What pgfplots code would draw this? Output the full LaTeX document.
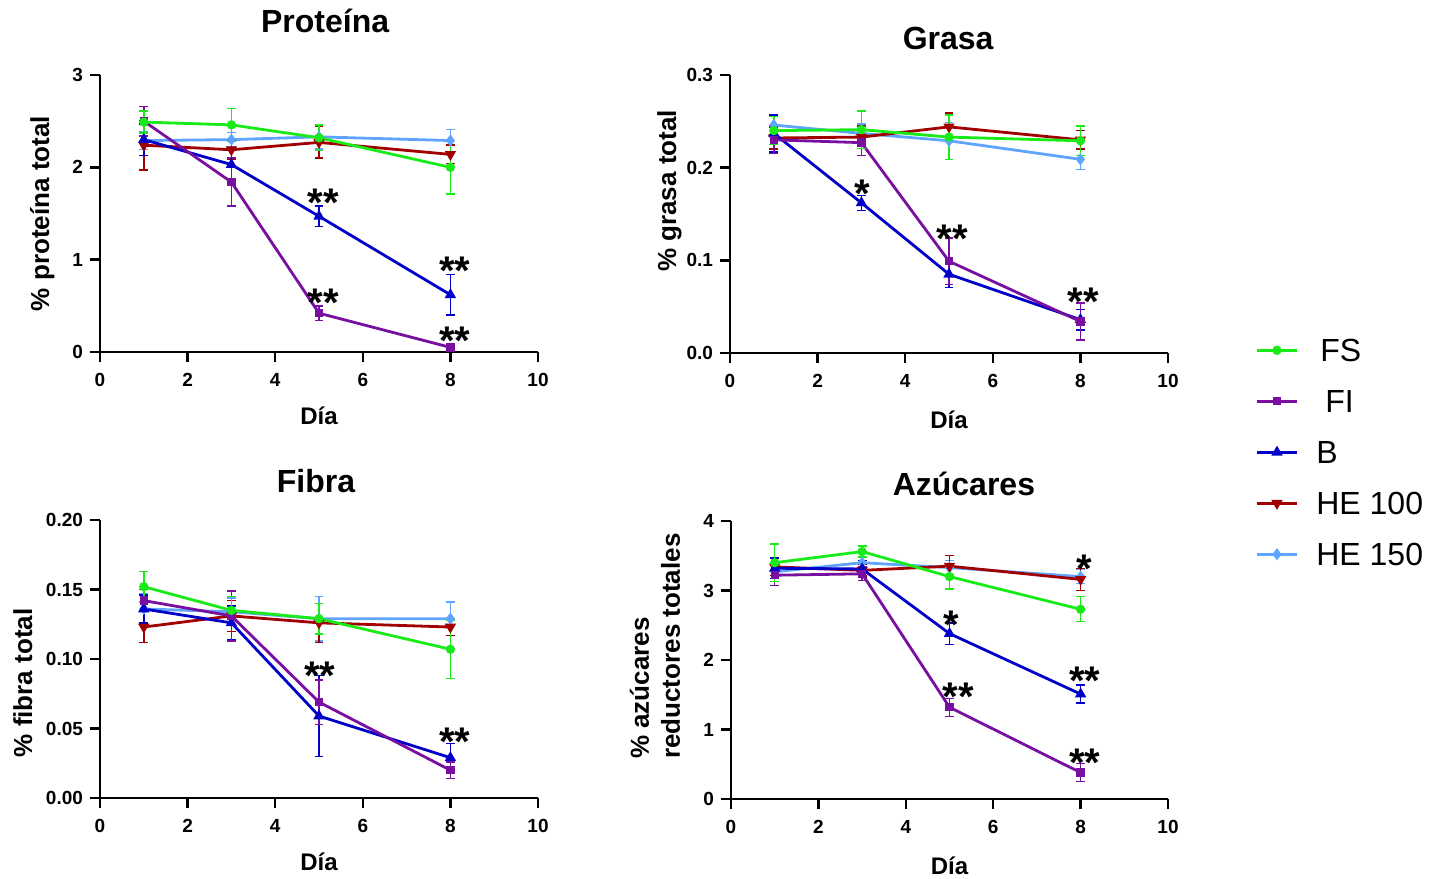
\documentclass[border=0pt]{standalone}
\usepackage{fontspec}
\setmainfont{Liberation Sans}
\usepackage{pgfplots}
\pgfplotsset{compat=1.18}

\definecolor{cFS}{RGB}{25,235,25}
\definecolor{cFI}{RGB}{120,15,160}
\definecolor{cB}{RGB}{0,0,200}
\definecolor{cHEa}{RGB}{160,0,0}
\definecolor{cHEb}{RGB}{95,165,255}

\newcommand{\stars}[1]{{\bfseries\fontsize{20}{20}\selectfont #1}}

\pgfplotsset{
  panel/.style={
    scale only axis, width=219pt, height=139pt,
    xmin=0, xmax=10, ymin=0,
    xtick={0,2,...,10},
    axis x line*=bottom, axis y line*=left,
    axis line style={line width=1.2pt},
    tick align=outside, major tick length=5pt,
    tick style={line width=1.2pt, black},
    /pgf/number format/assume math mode=true,
    ticklabel style={font=\bfseries\fontsize{9.5}{10}\selectfont},
    xticklabel style={yshift=-2pt},
    label style={font=\bfseries\fontsize{12}{14}\selectfont},
    ylabel style={font=\bfseries\fontsize{13}{15.5}\selectfont},
    every axis title shift=0pt,
    title style={font=\bfseries\fontsize{16}{18}\selectfont, anchor=base},
    xlabel={Día},
    clip=false,
  },
  ebar/.style={line width=1.4pt,
      error bars/y dir=both, error bars/y explicit,
      error bars/error bar style={line width=0.7pt},
      error bars/error mark options={rotate=90, mark size=2.2pt, line width=0.7pt}},
  sFS/.style={ebar, color=cFS, mark=*, mark size=1.6pt},
  sFI/.style={ebar, color=cFI, mark=square*, mark size=1.4pt},
  sB/.style={ebar, color=cB, mark=triangle*, mark size=1.9pt},
  sHEa/.style={ebar, color=cHEa, mark=triangle*, mark size=1.9pt, mark options={rotate=180}},
  sHEb/.style={ebar, color=cHEb, mark=diamond*, mark size=1.9pt},
}

\begin{document}
\begin{tikzpicture}
\useasboundingbox (0,0) rectangle (714.5pt,439pt);

% ---------------- Proteína ----------------
\begin{axis}[panel, at={(50pt,263pt)}, anchor=south west, height=138.5pt,
  ymax=3, ytick={0,1,2,3},
  title={Proteína}, title style={at={(axis description cs:0.514,1.155)}},
  ylabel={\% proteína total},
  ylabel style={at={(axis description cs:-0.116,0.5)}, anchor=base},
  xlabel style={at={(axis description cs:0.5,-0.26)}, anchor=base}]
\addplot[sHEb] coordinates {(1,2.29) +- (0,0.10) (3,2.30) +- (0,0.08) (5,2.33) +- (0,0.13) (8,2.29) +- (0,0.12)};
\addplot[sHEa] coordinates {(1,2.24) +- (0,0.27) (3,2.19) +- (0,0.10) (5,2.27) +- (0,0.17) (8,2.14) +- (0,0.10)};
\addplot[sB] coordinates {(1,2.30) +- (0,0.17) (3,2.03) +- (0,0.17) (5,1.47) +- (0,0.11) (8,0.62) +- (0,0.22)};
\addplot[sFI] coordinates {(1,2.50) +- (0,0.16) (3,1.84) +- (0,0.26) (5,0.42) +- (0,0.08) (8,0.05) +- (0,0.02)};
\addplot[sFS] coordinates {(1,2.49) +- (0,0.12) (3,2.46) +- (0,0.18) (5,2.32) +- (0,0.14) (8,2.00) +- (0,0.29)};
\node[anchor=north, inner sep=0pt] at (axis cs:5.1,1.77) {\stars{**}};
\node[anchor=north, inner sep=0pt] at (axis cs:8.1,1.03) {\stars{**}};
\node[anchor=north, inner sep=0pt] at (axis cs:5.1,0.69) {\stars{**}};
\node[anchor=north, inner sep=0pt] at (axis cs:8.1,0.27) {\stars{**}};
\end{axis}

% ---------------- Grasa ----------------
\begin{axis}[panel, at={(365pt,262.5pt)}, anchor=south west,
  ymax=0.3, ytick={0,0.1,0.2,0.3},
  yticklabel style={/pgf/number format/.cd, fixed, fixed zerofill, precision=1},
  title={Grasa}, title style={at={(axis description cs:0.498,1.09)}},
  ylabel={\% grasa total},
  ylabel style={at={(axis description cs:-0.123,0.583)}, anchor=base},
  xlabel style={at={(axis description cs:0.5,-0.273)}, anchor=base},
  legend style={draw=none, fill=none, inner sep=0pt,
    at={(rel axis cs:1.199,0.067)}, anchor=north west,
    font=\fontsize{16}{16}\selectfont, row sep=10pt, column sep=7pt,
    nodes={inner sep=2pt, text height=11.5pt, text depth=0pt}},
  legend cell align=left, reverse legend,
  legend image code/.code={\draw[mark repeat=2,mark phase=2,#1] plot coordinates {(0pt,0pt) (10pt,0pt) (20pt,0pt)};}]
\addplot[sHEb] coordinates {(1,0.246) +- (0,0.010) (3,0.237) +- (0,0.010) (5,0.229) +- (0,0.020) (8,0.209) +- (0,0.011)};
\addlegendentry{HE 150}
\addplot[sHEa] coordinates {(1,0.232) +- (0,0.012) (3,0.233) +- (0,0.012) (5,0.244) +- (0,0.015) (8,0.230) +- (0,0.010)};
\addlegendentry{HE 100}
\addplot[sB] coordinates {(1,0.237) +- (0,0.020) (3,0.162) +- (0,0.008) (5,0.085) +- (0,0.014) (8,0.036) +- (0,0.011)};
\addlegendentry{B}
\addplot[sFI] coordinates {(1,0.230) +- (0,0.015) (3,0.227) +- (0,0.014) (5,0.099) +- (0,0.025) (8,0.034) +- (0,0.020)};
\addlegendentry{\hspace{4.5pt}FI}
\addplot[sFS] coordinates {(1,0.240) +- (0,0.015) (3,0.241) +- (0,0.020) (5,0.233) +- (0,0.024) (8,0.229) +- (0,0.016)};
\addlegendentry{\hspace{2pt}FS}
\node[anchor=north, inner sep=0pt] at (axis cs:3.01,0.187) {\stars{*}};
\node[anchor=north, inner sep=0pt] at (axis cs:5.07,0.139) {\stars{**}};
\node[anchor=north, inner sep=0pt] at (axis cs:8.06,0.0705) {\stars{**}};
\end{axis}

% ---------------- Fibra ----------------
\begin{axis}[panel, at={(50pt,40pt)}, anchor=south west,
  ymax=0.2, ytick={0,0.05,0.1,0.15,0.2},
  yticklabel style={/pgf/number format/.cd, fixed, fixed zerofill, precision=2},
  title={Fibra}, title style={at={(axis description cs:0.493,1.10)}},
  ylabel={\% fibra total},
  ylabel style={at={(axis description cs:-0.155,0.414)}, anchor=base},
  xlabel style={at={(axis description cs:0.5,-0.259)}, anchor=base}]
\addplot[sHEb] coordinates {(1,0.136) +- (0,0.011) (3,0.134) +- (0,0.010) (5,0.129) +- (0,0.016) (8,0.129) +- (0,0.012)};
\addplot[sHEa] coordinates {(1,0.123) +- (0,0.011) (3,0.131) +- (0,0.011) (5,0.126) +- (0,0.014) (8,0.123) +- (0,0.006)};
\addplot[sB] coordinates {(1,0.136) +- (0,0.010) (3,0.126) +- (0,0.012) (5,0.059) +- (0,0.029) (8,0.029) +- (0,0.010)};
\addplot[sFI] coordinates {(1,0.142) +- (0,0.008) (3,0.131) +- (0,0.018) (5,0.069) +- (0,0.016) (8,0.020) +- (0,0.006)};
\addplot[sFS] coordinates {(1,0.152) +- (0,0.011) (3,0.135) +- (0,0.010) (5,0.129) +- (0,0.011) (8,0.107) +- (0,0.021)};
\node[anchor=north, inner sep=0pt] at (axis cs:5.02,0.0984) {\stars{**}};
\node[anchor=north, inner sep=0pt] at (axis cs:8.1,0.0507) {\stars{**}};
\end{axis}

% ---------------- Azúcares ----------------
\begin{axis}[panel, at={(365.5pt,39.5pt)}, anchor=south west, width=218.5pt,
  ymax=4, ytick={0,1,2,3,4},
  title={Azúcares}, title style={at={(axis description cs:0.533,1.09)}},
  ylabel={\% azúcares\\reductores totales},
  ylabel style={at={(axis description cs:-0.174,0.55)}, anchor=center, align=left},
  xlabel style={at={(axis description cs:0.5,-0.27)}, anchor=base}]
\addplot[sHEb] coordinates {(1,3.27) +- (0,0.10) (3,3.40) +- (0,0.08) (5,3.33) +- (0,0.10) (8,3.20) +- (0,0.10)};
\addplot[sHEa] coordinates {(1,3.34) +- (0,0.12) (3,3.29) +- (0,0.08) (5,3.35) +- (0,0.15) (8,3.16) +- (0,0.16)};
\addplot[sB] coordinates {(1,3.32) +- (0,0.15) (3,3.31) +- (0,0.12) (5,2.38) +- (0,0.155) (8,1.51) +- (0,0.13)};
\addplot[sFI] coordinates {(1,3.22) +- (0,0.15) (3,3.24) +- (0,0.10) (5,1.32) +- (0,0.13) (8,0.38) +- (0,0.13)};
\addplot[sFS] coordinates {(1,3.40) +- (0,0.27) (3,3.56) +- (0,0.08) (5,3.20) +- (0,0.18) (8,2.73) +- (0,0.18)};
\node[anchor=north, inner sep=0pt] at (axis cs:8.08,3.51) {\stars{*}};
\node[anchor=north, inner sep=0pt] at (axis cs:5.05,2.71) {\stars{*}};
\node[anchor=north, inner sep=0pt] at (axis cs:8.1,1.90) {\stars{**}};
\node[anchor=north, inner sep=0pt] at (axis cs:5.2,1.68) {\stars{**}};
\node[anchor=north, inner sep=0pt] at (axis cs:8.1,0.73) {\stars{**}};
\end{axis}
\end{tikzpicture}
\end{document}
